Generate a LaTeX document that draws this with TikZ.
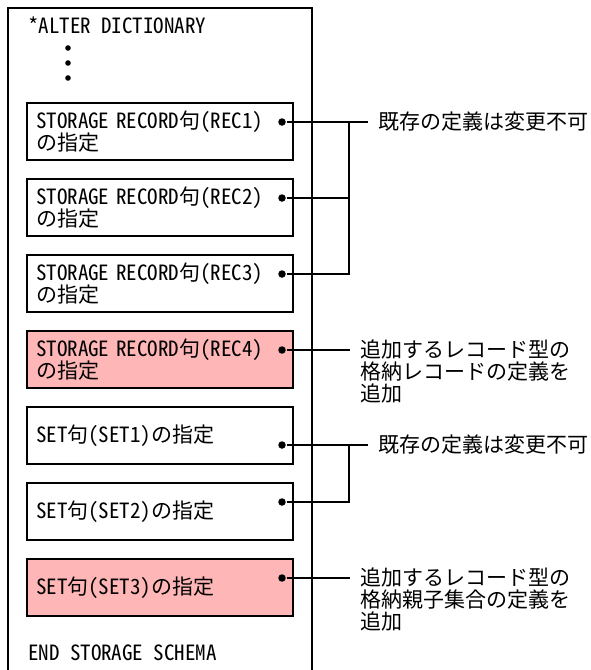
\documentclass[tikz,border=0pt]{standalone}
\usepackage{fontspec}
\setmainfont{Noto Sans CJK JP}[RawFeature=+hwid]
\usepackage{xcolor}
\usepackage{tikz}
\usetikzlibrary{positioning,calc}
\definecolor{addpink}{RGB}{255,182,182}
\tikzstyle{specbox}=[draw, minimum width=266pt, minimum height=57pt, outer sep=0pt,
  text width=248pt, align=left, inner xsep=9pt, inner ysep=0pt]
\tikzstyle{dot}=[circle, fill=black, inner sep=0pt, minimum size=7.5pt]
\tikzstyle{note}=[anchor=west, align=left, inner xsep=9pt, inner ysep=0pt]
\begin{document}
\begin{tikzpicture}[x=1pt, y=-1pt, node distance=19pt,
  line width=2pt,
  font=\fontsize{21}{22}\selectfont]
\useasboundingbox (0,0) rectangle (590,670);
\draw (8,672) |- (311.5,8) -- (311.5,672);
\node[anchor=west, inner sep=0pt] (hdr) at (27,25) {*ALTER DICTIONARY};
\foreach \y in {48,63,78} \fill (68,\y) circle (2.8pt);
\node[specbox, anchor=north west] (rec1) at (27,103) {STORAGE RECORD句(REC1)\\の指定};
\node[specbox, below=of rec1] (rec2) {STORAGE RECORD句(REC2)\\の指定};
\node[specbox, below=of rec2] (rec3) {STORAGE RECORD句(REC3)\\の指定};
\node[specbox, below=of rec3, fill=addpink] (rec4) {STORAGE RECORD句(REC4)\\の指定};
\node[specbox, below=of rec4] (set1) {SET句(SET1)の指定};
\node[specbox, below=of set1] (set2) {SET句(SET2)の指定};
\node[specbox, below=of set2, fill=addpink] (set3) {SET句(SET3)の指定};
\node[anchor=west, inner sep=0pt] (endsch) at (27,653) {END STORAGE SCHEMA};
\foreach \b/\d in {rec1/19, rec2/19, rec3/19, rec4/19, set1/38, set2/19, set3/19}
  \node[dot] (d\b) at ([xshift=-11pt, yshift=-\d pt]\b.north east) {};
\node[note] (keep1) at (368,122) {既存の定義は変更不可};
\node[note, anchor=north west] (add1) at (350,339) {追加するレコード型の\\格納レコードの定義を\\追加};
\node[note] (keep2) at (368,445) {既存の定義は変更不可};
\node[note, anchor=north west] (add2) at (350,567) {追加するレコード型の\\格納親子集合の定義を\\追加};
\coordinate (j1) at (349,122);
\coordinate (j2) at (349,445);
\draw (drec1) -- (drec1 -| keep1.west);
\draw (drec2) -| (j1);
\draw (drec3) -| (j1);
\draw (drec4) -- (drec4 -| add1.west);
\draw (dset1) -- (dset1 -| keep2.west);
\draw (dset2) -| (j2);
\draw (dset3) -- (dset3 -| add2.west);
\end{tikzpicture}
\end{document}
